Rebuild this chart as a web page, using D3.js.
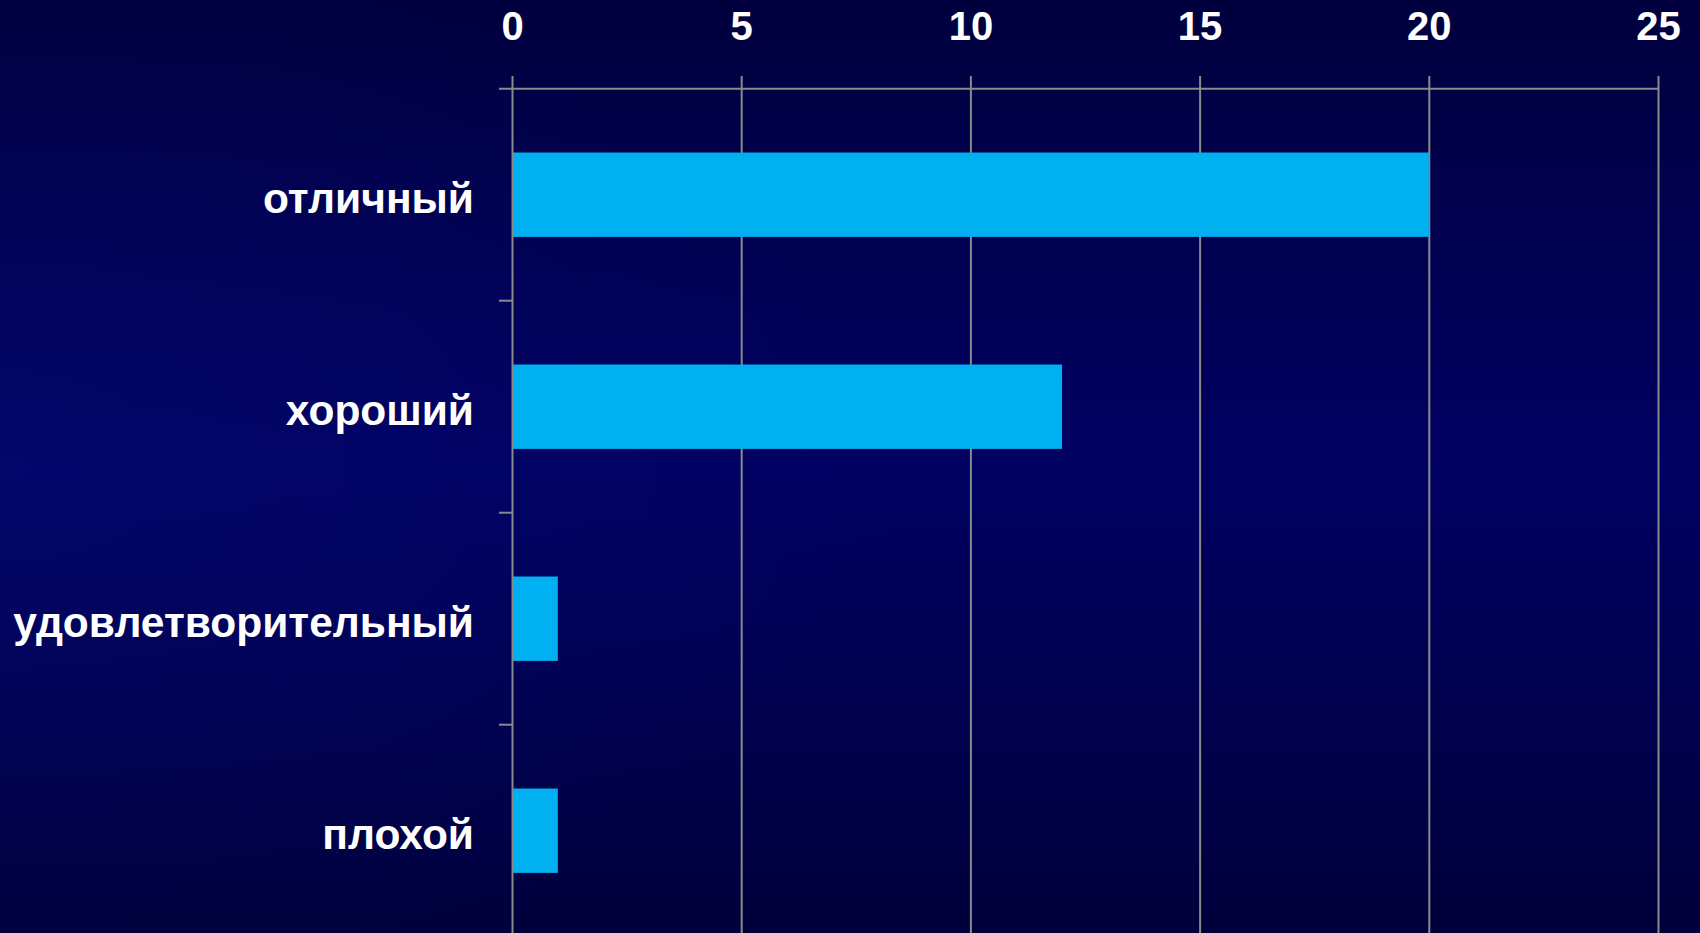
<!DOCTYPE html>
<html><head><meta charset="utf-8">
<script src="https://cdn.jsdelivr.net/npm/d3@7"></script>
<style>html,body{margin:0;padding:0;overflow:hidden;background:#000050;}</style>
</head><body>
<svg id="c" width="1700" height="933"></svg>
<script>
const categories = ["отличный", "хороший", "удовлетворительный", "плохой"];
const values = [20, 12, 1, 1];
const tickValues = [0, 5, 10, 15, 20, 25];

const W = 1700, H = 933;
const svg = d3.select("#c");
const defs = svg.append("defs");
const g1 = defs.append("linearGradient").attr("id","bgv").attr("x1",0).attr("y1",0).attr("x2",0).attr("y2",1);
g1.append("stop").attr("offset","0%").attr("stop-color","#00003e");
g1.append("stop").attr("offset","50%").attr("stop-color","#000062");
g1.append("stop").attr("offset","100%").attr("stop-color","#00003c");
const g2 = defs.append("radialGradient").attr("id","bgr").attr("cx","0").attr("cy","0.5").attr("r","0.55");
g2.append("stop").attr("offset","0%").attr("stop-color","#08107a").attr("stop-opacity",0.35);
g2.append("stop").attr("offset","100%").attr("stop-color","#08107a").attr("stop-opacity",0);
svg.append("rect").attr("width",W).attr("height",H).attr("fill","url(#bgv)");
svg.append("rect").attr("width",W).attr("height",H).attr("fill","url(#bgr)");

const x = d3.scaleLinear().domain([0,25]).range([512,1658]);
const y = d3.scaleBand().domain(categories).range([88.7, 936.7]).padding(0);
const font = "'Liberation Sans', Arial, sans-serif";
const gridColor = "#8a8a8a";

const gx = svg.append("g").attr("transform",`translate(0,88.7)`)
  .call(d3.axisTop(x).tickValues(tickValues).tickSize(12.7).tickFormat(d3.format("d")).tickPadding(36));
gx.select(".domain").remove();
gx.selectAll(".tick line").attr("stroke",gridColor).attr("stroke-width",2).attr("y2",-12.7).attr("y1",H);
gx.selectAll(".tick text").attr("fill","#fff").attr("font-family",font).attr("font-weight","bold").attr("font-size",40).attr("dy",0);

svg.append("line").attr("x1",499).attr("x2",x(25)).attr("y1",88.7).attr("y2",88.7).attr("stroke",gridColor).attr("stroke-width",2);

const bounds = categories.slice(1).map(c => y(c));
svg.selectAll(".ctick").data(bounds).enter().append("line")
  .attr("x1",499).attr("x2",x(0)).attr("y1",d=>d).attr("y2",d=>d)
  .attr("stroke",gridColor).attr("stroke-width",2);

const bh = y.bandwidth()*0.398;
svg.selectAll(".bar").data(values).enter().append("rect")
  .attr("x",x(0)+1).attr("y",(d,i)=>y(categories[i])+y.bandwidth()/2-bh/2)
  .attr("width",d=>x(d)-x(0)-1).attr("height",bh).attr("fill","#00B0F0");

svg.selectAll(".lab").data(categories).enter().append("text")
  .attr("x",474).attr("y",d=>y(d)+y.bandwidth()/2+3).attr("dy","0.35em")
  .attr("text-anchor","end").attr("fill","#fff").attr("font-family",font)
  .attr("font-weight","bold").attr("font-size",42.5).text(d=>d);
</script>
</body></html>
